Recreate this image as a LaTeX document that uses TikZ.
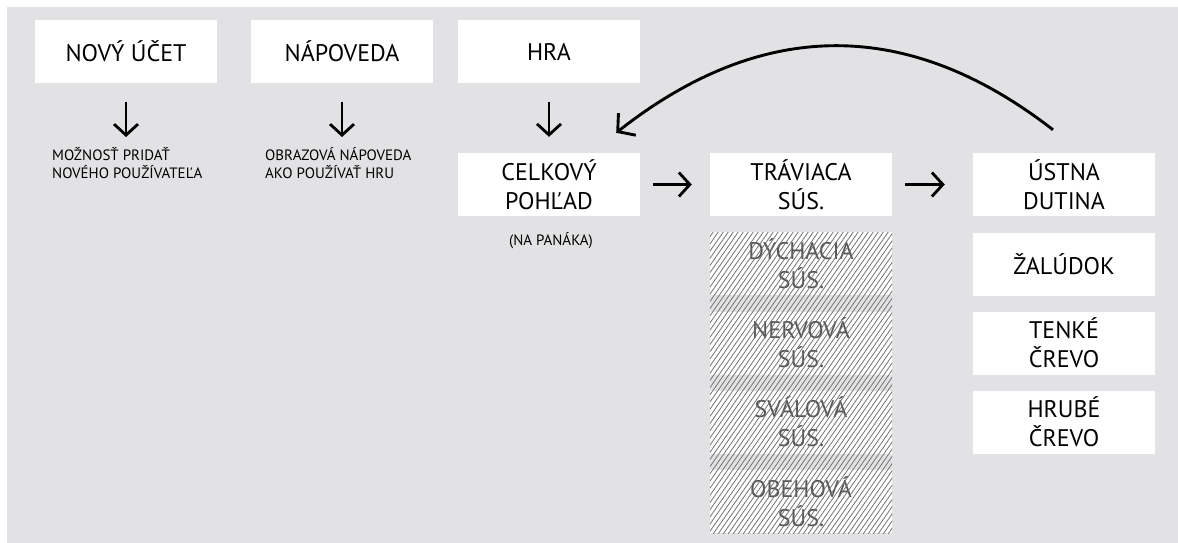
\documentclass[tikz,border=0pt]{standalone}
\usepackage{fontspec}
\setmainfont{PT Sans}
\usetikzlibrary{arrows.meta}
\definecolor{bg}{HTML}{E2E2E4}
\definecolor{hatchtxt}{HTML}{555555}
\definecolor{hatchln}{HTML}{6E6E6E}
\begin{document}
\begin{tikzpicture}[x=1pt,y=-1pt,
  box/.style={fill=white, minimum width=182pt, minimum height=63pt, inner sep=0pt, align=center, font=\fontsize{24}{29}\selectfont},
  hbox/.style={box, text=hatchtxt},
  note/.style={align=left, inner sep=0pt, font=\fontsize{15}{18.5}\selectfont},
  arr/.style={line width=2.8pt, -{Straight Barb[length=11pt,width=24pt]}},
  carr/.style={line width=2.9pt, -{Straight Barb[length=12pt,width=28pt]}},
]
\useasboundingbox (0,0) rectangle (1178,543);
\fill[white] (0,0) rectangle (1178,543);
\fill[bg] (7,7) rectangle (1178,543);

% top row
\node[box] (nov) at (126,51.5) {NOVÝ ÚČET};
\node[box] (nap) at (342,51.5) {NÁPOVEDA};
\node[box] (hra) at (549,51.5) {HRA};

% notes
\node[note, anchor=north west] (novtxt) at (52,147) {MOŽNOSŤ PRIDAŤ\\NOVÉHO POUŽÍVATEĽA};
\node[note, anchor=north west] (naptxt) at (265,147) {OBRAZOVÁ NÁPOVEDA\\AKO POUŽÍVAŤ HRU};

% main row
\node[box] (cel) at (549,184.5) {CELKOVÝ\\POHĽAD};
\node[note] (panak) at (551,241) {(NA PANÁKA)};
\node[box] (tra) at (801,184.5) {TRÁVIACA\\SÚS.};
\node[box] (ust) at (1064,184.5) {ÚSTNA\\DUTINA};
\node[box] (zal) at (1064,264) {ŽALÚDOK};
\node[box] (ten) at (1064,343) {TENKÉ\\ČREVO};
\node[box] (hru) at (1064,422) {HRUBÉ\\ČREVO};

% hatched column
\node[hbox] (dy) at (801,263.5) {DÝCHACIA\\SÚS.};
\node[hbox] (ne) at (801,343) {NERVOVÁ\\SÚS.};
\node[hbox] (sv) at (801,422) {SVÁLOVÁ\\SÚS.};
\node[hbox] (ob) at (801,501.5) {OBEHOVÁ\\SÚS.};
\begin{scope}
  \clip (710,232) rectangle (892,533);
  \foreach \i in {-40,...,100} {
    \draw[hatchln, line width=0.75pt] (600+\i*5,560) -- (600+\i*5+270,232-60);
  }
\end{scope}

% arrows
\draw[arr, shorten <=19pt, shorten >=10pt] (nov.south) -- (nov.south |- novtxt.north);
\draw[arr, shorten <=19pt, shorten >=10pt] (nap.south) -- (nap.south |- naptxt.north);
\draw[arr, shorten <=19pt, shorten >=16pt] (hra) -- (cel);
\draw[arr, shorten <=13pt, shorten >=18pt] (cel) -- (tra);
\draw[arr, shorten <=13pt, shorten >=28pt] (tra) -- (ust);

\coordinate (cs) at ([shift={(-11pt,23pt)}]ust.north);
\coordinate (ce) at ([shift={(-24pt,20pt)}]cel.north east);
\draw[carr] (cs) .. controls (908,17) and (762,18) .. (ce);
\end{tikzpicture}
\end{document}
